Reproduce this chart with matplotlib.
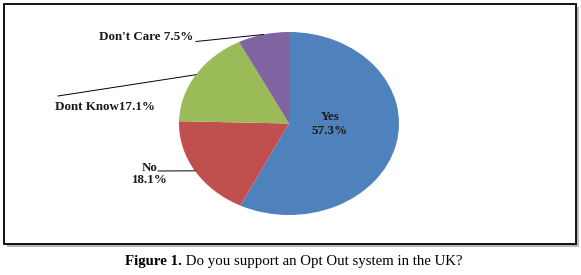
import numpy as np
import matplotlib.pyplot as plt
from matplotlib.patches import Rectangle

# survey answers, clockwise from 12 o'clock
labels = ['Yes', 'No', 'Dont Know', "Don't Care"]
shares = [57.3, 18.1, 17.1, 7.5]
label_texts = ['Yes\n57.3%', 'No\n18.1%', 'Dont Know17.1%', "Don't Care 7.5%"]
colors = ['#4F81BD', '#C0504D', '#9BBB59', '#8064A2']
caption_bold = 'Figure 1.'
caption_rest = ' Do you support an Opt Out system in the UK?'

W, H = 581, 275
plt.rcParams['font.family'] = ['Liberation Serif', 'DejaVu Serif']

fig = plt.figure(figsize=(W / 100, H / 100), dpi=100)


def fx(px):
    return px / W


def fy(py):
    return 1 - py / H


# framed box with a soft shadow (kept behind the pie axes)
fig.patches.append(Rectangle((fx(7), fy(247)), fx(572), 240 / H, transform=fig.transFigure,
                             facecolor='#b8b8b8', edgecolor='none', zorder=-2))
fig.patches.append(Rectangle((fx(4), fy(244)), fx(572), 240 / H, transform=fig.transFigure,
                             facecolor='white', edgecolor='black', linewidth=1.3, zorder=-1))

# pie is an ellipse: centre (289,123.5), semi-axes 110 x 91.5 px
cx, cy, ra, rb = 289, 123.5, 110, 91.5
ax = fig.add_axes([fx(cx - ra), fy(cy + rb), 2 * ra / W, 2 * rb / H])
wedges, _ = ax.pie(shares, colors=colors, startangle=90, counterclock=False,
                   wedgeprops=dict(linewidth=0))
ax.set_aspect('auto')
ax.set_xlim(-1, 1)
ax.set_ylim(-1, 1)
ax.axis('off')


def dx(px):
    return (px - cx) / ra


def dy(py):
    return (cy - py) / rb


font = dict(fontsize=9.4, fontweight='bold', color='#1a1a1a')

# Yes label inside the slice
ax.text(dx(330), dy(124), label_texts[0], ha='center', va='center',
        linespacing=1.25, **font)

# outside labels with leader lines: (text x, text y, ha, line start x, line start y)
outside = {
    1: (150, 174, 'center', 158, 171),
    2: (155, 107, 'right', 58, 96),
    3: (193, 37, 'right', 196, 41.5),
}
for i, (tx, ty, ha, lx, ly) in outside.items():
    w = wedges[i]
    mid = np.deg2rad((w.theta1 + w.theta2) / 2)
    ex, ey = np.cos(mid), np.sin(mid)
    ax.plot([dx(lx), ex], [dy(ly), ey], color='black', lw=0.7, clip_on=False)
    ax.text(dx(tx), dy(ty), label_texts[i], ha=ha, va='center', linespacing=1.1,
            clip_on=False, **font)

# caption below the box
t = fig.text(fx(125), fy(262), caption_bold, fontsize=10.7, fontweight='bold',
             ha='left', va='center')
fig.canvas.draw()
bb = t.get_window_extent()
fig.text(bb.x1 / W, fy(262), caption_rest, fontsize=10.7, ha='left', va='center')

fig.savefig('out.png', dpi=100)
